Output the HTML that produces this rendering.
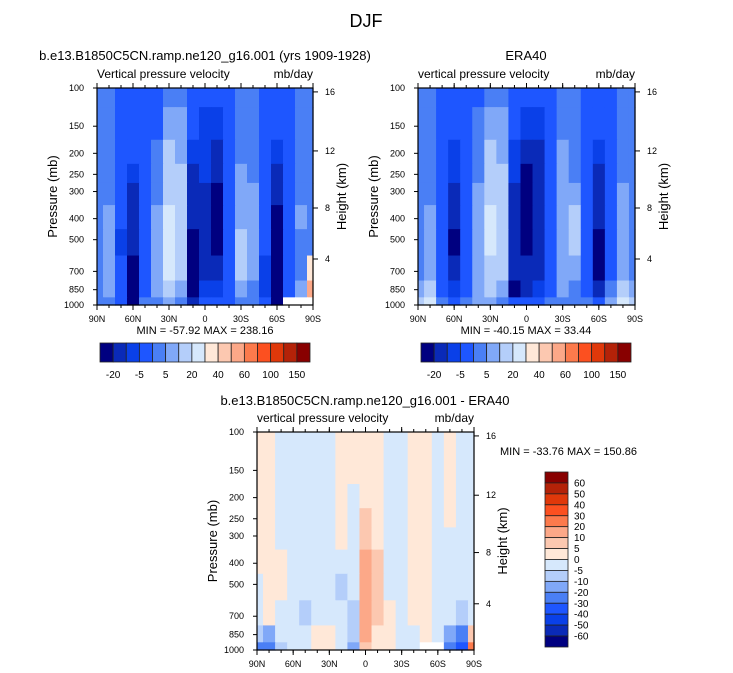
<!DOCTYPE html>
<html><head><meta charset="utf-8"><style>
body{margin:0;background:#fff;}
svg{display:block;font-family:"Liberation Sans",sans-serif;}
</style></head><body>
<svg id="fig" width="733" height="673" viewBox="0 0 733 673" xmlns="http://www.w3.org/2000/svg">
<text x="366" y="27" font-size="18" text-anchor="middle">DJF</text>
</svg>
<script>
// ---- data ----
const lats = [90,80,70,60,50,40,30,20,10,0,-10,-20,-30,-40,-50,-60,-70,-80,-90];
const pLevels = [100,150,200,250,300,400,500,700,850,1000];
const topBounds = [-20,-10,-5,0,5,10,20,30,40,50,60,80,100,120,150];
const diffBounds = [-60,-50,-40,-30,-20,-10,-5,0,5,10,20,30,40,50,60];
const topLabels = ["-20","-5","5","20","40","60","100","150"];
const diffLabels = ["60","50","40","30","20","10","5","0","-5","-10","-20","-30","-40","-50","-60"];
const palette = ["#000080","#0a2ab8","#0a40e8","#1e56ff","#4a7ff5","#80a8f8","#b4cefa","#d6e8fc","#ffe8d8","#fcc8b0","#fca888","#fc7a4c","#fc5020","#e0380a","#b42208","#880000"];
const modelVals = [
[2,2,-2,-2,-2,-2,2,2,-2,-2,-2,-2,2,2,-2,-2,-2,2,2],
[2,2,-2,-2,-2,-2,7,7,-2,-7,-7,-2,2,2,-2,-2,-2,2,2],
[2,2,-2,-2,-2,2,15,7,-7,-7,-15,-2,2,2,-2,-7,-2,2,2],
[2,2,-2,-7,-2,2,15,15,-15,-7,-15,-2,7,2,-2,-15,-2,2,2],
[2,2,-2,-15,-2,2,15,15,-15,-15,-30,-2,7,7,-2,-15,-2,2,2],
[2,7,-2,-15,-2,7,25,15,-15,-15,-30,-2,7,7,-2,-30,-2,7,2],
[2,7,-7,-15,-2,7,25,15,-30,-15,-30,-2,15,7,-2,-30,-2,2,2],
[2,7,-2,-30,-2,7,25,15,-30,-15,-15,-2,15,7,-7,-30,-2,2,35],
[2,7,-2,-30,-2,7,15,7,-30,-7,-7,-2,7,2,-7,-30,-2,7,55],
[2,2,-2,-30,2,2,7,2,-15,-2,-2,-2,2,2,-2,-30,null,null,null]];
const eraVals = [
[2,2,-2,-2,-2,-2,2,2,-2,-2,-2,-2,2,2,-2,-2,-2,2,2],
[2,2,-2,-2,-2,2,7,7,-2,-7,-7,-2,2,2,-2,-2,-2,2,2],
[2,2,-2,-7,-2,2,15,7,-7,-15,-15,-2,7,2,-2,-7,-2,2,2],
[2,2,-2,-7,-2,2,15,15,-7,-30,-15,-2,7,2,-2,-15,-2,2,2],
[2,2,-2,-15,-2,7,15,15,-15,-30,-15,-2,7,7,-2,-15,-2,7,2],
[2,7,-2,-15,-2,7,25,15,-15,-30,-15,-2,7,15,-2,-15,-2,7,2],
[2,7,-2,-30,-2,7,25,15,-15,-30,-15,-2,7,15,-2,-30,-2,7,2],
[2,7,-2,-15,-2,7,15,15,-15,-15,-15,-2,7,7,-2,-30,-2,7,2],
[7,15,-2,-7,-2,7,15,7,-30,-15,-7,-2,7,2,-2,-15,2,15,7],
[15,25,2,-2,2,7,7,2,-2,-2,-2,2,2,2,2,-2,7,25,15]];
const diffVals = [
[2,2,-2,-2,-2,-2,-2,2,2,2,2,-2,-2,2,2,-2,2,-2,-2],
[2,2,-2,-2,-2,-2,-2,2,2,2,2,-2,-2,2,2,-2,2,-2,-2],
[2,2,-2,-2,-2,-2,-2,2,-2,2,2,-2,-2,2,2,-2,2,-2,-2],
[2,2,-2,-2,-2,-2,-2,2,-2,7,2,-2,-2,2,2,-2,2,-2,-2],
[2,2,-2,-2,-2,-2,-2,2,-2,7,2,-2,-2,2,2,-2,-2,-2,-2],
[2,2,2,-2,-2,-2,-2,-2,-2,15,7,-2,-2,2,2,-2,-2,-2,-2],
[-2,2,2,-2,-2,-2,-2,-7,-2,15,7,-2,-2,2,2,-2,-2,-2,-2],
[-2,2,-2,-2,-7,-2,-2,-2,-7,15,7,2,-2,2,2,-2,-2,-7,-2],
[-7,-15,-2,-2,-2,2,2,-2,-7,15,2,2,-2,-2,2,-2,-15,-25,7],
[-25,-25,-7,-2,-2,2,2,-2,-15,7,2,2,-2,-2,null,null,-25,-35,25]];
const xTickLabels = ["90N","60N","30N","0","30S","60S","90S"];
const xTickLats = [90,60,30,0,-30,-60,-90];
const yTicks = [100,150,200,250,300,400,500,700,850,1000];
const hTicks = [4,8,12,16];

// ---- drawing ----
const hFrac = {4:0.788,8:0.553,12:0.29,16:0.018};
const NS="http://www.w3.org/2000/svg";
const svg=document.getElementById('fig');
function mk(tag,attrs,parent){const e=document.createElementNS(NS,tag);for(const k in attrs)e.setAttribute(k,attrs[k]);(parent||svg).appendChild(e);return e;}
function txt(x,y,s,size,anchor,parent,rot){const t=mk('text',{x:x,y:y,'font-size':size,'text-anchor':anchor||'start'},parent);if(rot)t.setAttribute('transform','rotate(-90 '+x+' '+y+')');t.textContent=s;return t;}
function levelIndex(v,b){let i=0;while(i<b.length&&v>=b[i])i++;return i;}

function panel(o){
  const g=mk('g',{});
  
  
  const W=o.x1-o.x0,H=o.y1-o.y0;
  const xs=lat=>o.x0+(90-lat)/180*W;
  const ys=p=>o.y0+Math.log10(p/100)*H;
  for(let r=0;r<pLevels.length;r++){
    const pTop=r===0?100:Math.sqrt(pLevels[r-1]*pLevels[r]);
    const pBot=r===pLevels.length-1?1000:Math.sqrt(pLevels[r]*pLevels[r+1]);
    for(let c=0;c<lats.length;c++){
      const v=o.vals[r][c];
      const la=Math.min(90,lats[c]+5),lb=Math.max(-90,lats[c]-5);
      const fill=v===null?'#ffffff':palette[levelIndex(v,o.bounds)];
      const cell=mk('rect',{x:xs(la).toFixed(2),y:ys(pTop).toFixed(2),width:(xs(lb)-xs(la)+0.6).toFixed(2),height:(ys(pBot)-ys(pTop)+0.6).toFixed(2),fill:fill},g);
      
      
    }
  }
  const fr=mk('rect',{x:o.x0,y:o.y0,width:W,height:H,fill:'none',stroke:'#000','stroke-width':1.2},g);
  
  
  xTickLats.forEach((la,i)=>{
    const x=xs(la);
    mk('line',{x1:x,y1:o.y1,x2:x,y2:o.y1+5,stroke:'#000'},g);
    mk('line',{x1:x,y1:o.y0,x2:x,y2:o.y0-5,stroke:'#000'},g);
    const t=txt(x,o.y1+17,xTickLabels[i],9,'middle',g);
    
    
  });
  for(let la=80;la>-90;la-=10){const x=xs(la);mk('line',{x1:x,y1:o.y1,x2:x,y2:o.y1+3,stroke:'#000'},g);mk('line',{x1:x,y1:o.y0,x2:x,y2:o.y0-3,stroke:'#000'},g);}
  yTicks.forEach(p=>{
    const y=ys(p);
    mk('line',{x1:o.x0,y1:y,x2:o.x0-4,y2:y,stroke:'#000'},g);
    const t=txt(o.x0-13,y+3,String(p),9,'end',g);
    
    
  });
  hTicks.forEach(h=>{
    const y=o.y0+H*hFrac[h];
    mk('line',{x1:o.x1,y1:y,x2:o.x1+5,y2:y,stroke:'#000'},g);
    const t=txt(o.x1+12,y+3,String(h),9,'start',g);
    
    
  });
  let t=txt(o.x0-40,(o.y0+o.y1)/2,'Pressure (mb)',13,'middle',g,true);
  
  
  t=txt(o.x1+33,(o.y0+o.y1)/2,'Height (km)',13,'middle',g,true);
  
  
  t=txt(o.x0,o.y0-10,o.sub,12,'start',g);
  
  
  t=txt(o.x1,o.y0-10,'mb/day',12,'end',g);
  
  
  t=txt(o.tx,o.ty,o.title,13,'middle',g);
  
  
  t=txt(o.mx,o.my,o.minmax,11,o.ma||'middle',g);
  
  
}
panel({name:'model-panel',vals:modelVals,bounds:topBounds,x0:97,x1:313,y0:88,y1:305,sub:'Vertical pressure velocity',title:'b.e13.B1850C5CN.ramp.ne120_g16.001 (yrs 1909-1928)',tx:205,ty:60,minmax:'MIN = -57.92  MAX = 238.16',mx:205,my:334});
panel({name:'era40-panel',vals:eraVals,bounds:topBounds,x0:418,x1:635,y0:88,y1:305,sub:'vertical pressure velocity',title:'ERA40',tx:526,ty:60,minmax:'MIN = -40.15  MAX =  33.44',mx:526,my:334});
panel({name:'difference-panel',vals:diffVals,bounds:diffBounds,x0:257,x1:474,y0:432,y1:650,sub:'vertical pressure velocity',title:'b.e13.B1850C5CN.ramp.ne120_g16.001 - ERA40',tx:365,ty:405,minmax:'MIN = -33.76  MAX = 150.86',mx:500,my:455,ma:'start'});

function hbar(x0,name){
  const g=mk('g',{});
  
  
  const w=210/16;
  palette.forEach((c,i)=>{mk('rect',{x:x0+i*w,y:343,width:w,height:19,fill:c,stroke:'#222','stroke-width':0.8},g);});
  topLabels.forEach((s,i)=>{const t=txt(x0+(2*i+1)*w,378,s,10,'middle',g);});
}
hbar(100,'model-colorbar');
hbar(421,'era40-colorbar');
(function(){
  const g=mk('g',{});
  
  
  const h=175/16;
  for(let i=0;i<16;i++){mk('rect',{x:545,y:472+i*h,width:23,height:h,fill:palette[15-i],stroke:'#222','stroke-width':0.8},g);}
  diffLabels.forEach((s,i)=>{const t=txt(574,472+(i+1)*h+3.5,s,10,'start',g);});
})();
</script>
</body></html>
